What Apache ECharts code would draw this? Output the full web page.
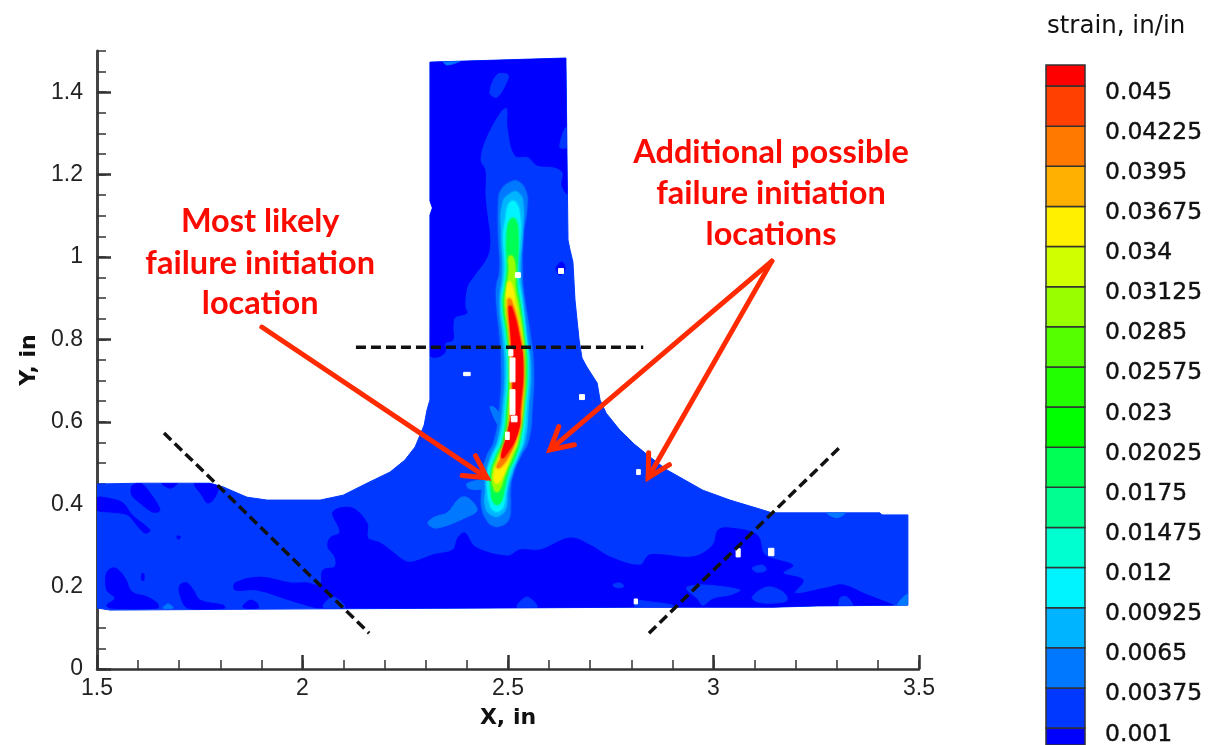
<!DOCTYPE html>
<html><head><meta charset="utf-8">
<style>html,body{margin:0;padding:0;background:#fff}#c{width:1211px;height:745px}</style>
<script src="https://cdn.jsdelivr.net/npm/echarts@6/dist/echarts.min.js"></script>
</head><body><div id="c"></div>
<script>
// ---- colour-bar
const levels=[0.001,0.00375,0.0065,0.00925,0.012,0.01475,0.0175,0.02025,0.023,0.02575,0.0285,0.03125,0.034,0.03675,0.0395,0.04225,0.045];
const bandColors=['#0000ff','#0038ff','#0078ff','#00b4ff','#00f4ff','#00ffd0','#00ff90','#00ff55','#00ff00','#22ff00','#55ff00','#99ff00','#d0ff00','#fff000','#ffb000','#ff7800','#ff4000','#ff0000'];
const xMajor=[1.5,2,2.5,3,3.5];
const yMajor=[0,0.2,0.4,0.6,0.8,1,1.2,1.4];
// ---- specimen outline (x,y in inches)
const outline=[[2.310,1.473],[2.641,1.483],[2.644,1.211],[2.646,1.041],[2.651,1.017],[2.658,.988],[2.663,.896],[2.668,.847],[2.673,.799],[2.680,.755],[2.692,.733],[2.717,.694],[2.724,.653],[2.739,.621],[2.772,.580],[2.807,.546],[2.845,.515],[2.887,.483],[2.974,.434],[3.040,.410],[3.120,.386],[3.142,.379],[3.405,.379],[3.410,.374],[3.473,.374],[3.473,.155],[3.252,.153],[3.145,.150],[2.821,.150],[2.481,.148],[2.043,.146],[1.532,.143],[1.5,.148],[1.5,.449],[1.605,.451],[1.775,.451],[1.807,.442],[1.865,.417],[1.914,.410],[2.043,.410],[2.099,.422],[2.157,.451],[2.213,.478],[2.249,.507],[2.274,.539],[2.296,.592],[2.303,.629],[2.310,.653],[2.310,1.102],[2.316,1.119],[2.310,1.136]];
// ---- low-strain contours (below 0.00375)
const lowStem=[[2.310,1.473],[2.641,1.483],[2.644,1.155],[2.631,1.175],[2.634,1.204],[2.614,1.218],[2.571,1.223],[2.549,1.243],[2.517,1.247],[2.500,1.315],[2.498,1.362],[2.481,1.352],[2.444,1.284],[2.432,1.235],[2.444,1.211],[2.444,1.150],[2.449,1.102],[2.456,1.041],[2.449,1.000],[2.415,.951],[2.400,.927],[2.395,.879],[2.400,.864],[2.371,.854],[2.366,.830],[2.366,.799],[2.347,.791],[2.347,.769],[2.327,.757],[2.310,.762]];
const lowBand=[[1.836,.209],[1.897,.223],[1.970,.209],[2.011,.209],[2.043,.204],[2.050,.240],[2.079,.248],[2.079,.272],[2.062,.296],[2.067,.318],[2.091,.332],[2.074,.381],[2.120,.391],[2.157,.354],[2.159,.318],[2.189,.306],[2.213,.289],[2.254,.260],[2.286,.265],[2.317,.277],[2.366,.289],[2.378,.318],[2.395,.330],[2.420,.296],[2.498,.274],[2.529,.289],[2.578,.289],[2.651,.318],[2.699,.301],[2.748,.272],[2.821,.252],[2.845,.277],[2.950,.272],[2.999,.301],[3.011,.337],[3.040,.342],[3.106,.325],[3.125,.277],[3.193,.252],[3.169,.233],[3.218,.216],[3.198,.184],[3.276,.197],[3.315,.204],[3.373,.180],[3.437,.155],[3.437,.150],[2.043,.148],[2.011,.155],[1.970,.167],[1.889,.192],[1.836,.192]];
const lowPatches=[
 [[1.585,.444],[1.605,.451],[1.624,.434],[1.653,.386],[1.636,.381],[1.605,.403],[1.585,.422]],
 [[1.658,.451],[1.695,.451],[1.678,.439]],
 [[1.738,.451],[1.794,.449],[1.787,.417],[1.770,.403],[1.755,.422]],
 [[1.5,.415],[1.524,.415],[1.563,.403],[1.585,.374],[1.629,.337],[1.617,.330],[1.597,.349],[1.575,.374],[1.532,.381],[1.5,.386]],
 [[1.695,.323],[1.704,.320],[1.697,.315]],
 [[1.524,.235],[1.544,.245],[1.568,.221],[1.585,.187],[1.622,.175],[1.646,.160],[1.648,.148],[1.532,.148],[1.524,.155],[1.544,.172],[1.524,.192]],
 [[1.702,.204],[1.719,.209],[1.734,.192],[1.751,.167],[1.807,.155],[1.811,.148],[1.721,.148],[1.702,.180]],
 [[1.855,.150],[1.872,.167],[1.889,.160],[1.892,.148]],
 [[1.609,.231],[1.614,.231],[1.614,.216],[1.609,.216]],
 [[2.617,.973],[2.631,.988],[2.639,.973],[2.627,.956]]
];
// ---- base-level islands inside the low-strain contours
const midIslands=[
 [[2.456,1.398],[2.473,1.442],[2.500,1.442],[2.493,1.417],[2.473,1.388]],
 [[2.626,1.267],[2.641,1.315],[2.644,1.267]],
 [[2.050,.150],[2.074,.175],[2.103,.150]],
 [[2.522,.150],[2.546,.175],[2.571,.150]],
 [[2.755,.204],[2.772,.209],[2.782,.201],[2.767,.197]],
 [[2.811,.165],[2.845,.163],[2.901,.155],[2.901,.150],[2.811,.150]],
 [[2.936,.199],[2.974,.204],[3.064,.192],[3.040,.180],[2.999,.172],[2.974,.155],[2.960,.172],[2.936,.192]],
 [[3.094,.175],[3.131,.199],[3.169,.187],[3.179,.167],[3.145,.160],[3.106,.163]],
 [[3.094,.245],[3.120,.252],[3.128,.240],[3.106,.235]],
 [[3.308,.172],[3.325,.175],[3.339,.150],[3.308,.150]]
];
// ---- slightly raised spots (0.0065 level)
const raisedSpots=[
 [[2.342,1.478],[2.386,1.478],[2.352,1.466]],
 [[3.447,.155],[3.473,.182],[3.473,.155]],
 [[3.276,.379],[3.320,.379],[3.300,.367]],
 [[1.661,.148],[1.673,.158],[1.685,.148]]
];
const raisedBlobs=[
 [[2.305,.354],[2.322,.369],[2.352,.379],[2.383,.415],[2.403,.415],[2.425,.386],[2.400,.369],[2.327,.342]],
 [[2.456,.636],[2.468,.634],[2.488,.604],[2.481,.585]],
 [[2.400,.450],[2.437,.457],[2.437,.438],[2.405,.438]]
];
// ---- the crack band: rows of [y, left x, right x] for nested contours, top to bottom
const crack0065=[[1.182,2.509,2.525],[1.163,2.485,2.541],[1.131,2.478,2.546],[1.049,2.478,2.536],[.968,2.481,2.534],[.927,2.473,2.536],[.888,2.473,2.541],[.806,2.481,2.554],[.733,2.485,2.561],[.636,2.481,2.558],[.556,2.468,2.549],[.515,2.449,2.529],[.476,2.439,2.512],[.434,2.437,2.505],[.393,2.437,2.505],[.362,2.449,2.500],[.349,2.463,2.483]];
const crack0093=[[1.155,2.509,2.525],[1.131,2.488,2.536],[1.049,2.485,2.534],[.968,2.488,2.529],[.888,2.481,2.536],[.806,2.488,2.544],[.733,2.493,2.554],[.636,2.488,2.549],[.556,2.476,2.541],[.515,2.459,2.524],[.476,2.449,2.510],[.434,2.446,2.498],[.393,2.446,2.495],[.374,2.461,2.481]];
const crack0120=[[1.131,2.505,2.519],[1.090,2.495,2.529],[1.049,2.490,2.529],[.968,2.493,2.524],[.888,2.485,2.534],[.806,2.493,2.544],[.733,2.498,2.549],[.636,2.493,2.544],[.556,2.481,2.536],[.515,2.463,2.522],[.476,2.451,2.505],[.434,2.451,2.495],[.403,2.456,2.490],[.386,2.465,2.481]];
const crack0200=[[1.090,2.506,2.518],[1.049,2.498,2.524],[.968,2.498,2.522],[.927,2.493,2.522],[.888,2.488,2.529],[.806,2.498,2.539],[.733,2.503,2.546],[.636,2.498,2.539],[.556,2.488,2.529],[.515,2.471,2.517],[.476,2.459,2.500],[.434,2.459,2.490],[.403,2.467,2.480]];
const crack0310=[[1.000,2.503,2.511],[.968,2.503,2.517],[.927,2.498,2.517],[.888,2.493,2.524],[.806,2.503,2.536],[.733,2.507,2.541],[.636,2.503,2.536],[.556,2.493,2.524],[.515,2.476,2.510],[.476,2.463,2.493],[.434,2.468,2.478]];
const crack0367=[[.937,2.500,2.507],[.888,2.498,2.517],[.806,2.505,2.532],[.733,2.507,2.536],[.636,2.507,2.534],[.556,2.498,2.522],[.515,2.481,2.505],[.476,2.468,2.490],[.454,2.469,2.477]];
const crack0395=[[.896,2.500,2.507],[.806,2.507,2.529],[.733,2.510,2.536],[.636,2.510,2.532],[.556,2.500,2.517],[.515,2.485,2.500],[.490,2.473,2.481]];
const crack0450=[[.879,2.503,2.508],[.806,2.508,2.527],[.733,2.512,2.536],[.636,2.510,2.529],[.575,2.500,2.524],[.515,2.484,2.491]];
// ---- data holes: [xmin,ymin,xmax,ymax]
const holes=[[2.518,.950,2.530,.962],[2.623,.960,2.635,.972],[2.392,.712,2.408,.720],[2.674,.654,2.686,.666],[2.505,.697,2.517,.755],[2.505,.618,2.517,.678],[2.508,.600,2.522,.614],[2.494,.557,2.503,.575],[2.502,.760,2.512,.775],[2.813,.472,2.822,.484],[3.055,.272,3.065,.292],[3.134,.275,3.147,.293],[2.807,.158,2.815,.170]];
// ---- overlays
const dashLines=[[[2.130,.781],[2.829,.781]],[[1.663,.573],[2.162,.087]],[[2.843,.087],[3.308,.539]]];
const arrows=[[[1.901,.830],[2.449,.464]],[[3.142,.990],[2.602,.532]],[[3.142,.990],[2.841,.464]]];
const notes=[[1.897,1.086,'Most likely'],[1.897,.984,'failure initiation'],[1.897,.888,'location'],[3.140,1.254,'Additional possible'],[3.140,1.154,'failure initiation'],[3.140,1.055,'locations']];

const rowsToPoly=r=>r.map(a=>[a[1],a[0]]).concat(r.slice().reverse().map(a=>[a[2],a[0]]));
const rect=h=>[[h[0],h[1]],[h[2],h[1]],[h[2],h[3]],[h[0],h[3]]];
const layers=[
 {c:'#0038ff',p:[outline]},
 {c:'#0000ff',p:[lowStem,lowBand].concat(lowPatches),s:.35,clip:1},
 {c:'#0038ff',p:midIslands,s:.35,clip:1},
 {c:'#0078ff',p:raisedSpots.concat(raisedBlobs),s:.35,clip:1},
 {c:'#0078ff',p:[rowsToPoly(crack0065)],s:.5,b:2},
 {c:'#00b4ff',p:[rowsToPoly(crack0093)],s:.5,b:2},
 {c:'#00f4ff',p:[rowsToPoly(crack0120)],s:.5,b:3},
 {c:'#00ff55',p:[rowsToPoly(crack0200)],s:.5,b:3},
 {c:'#99ff00',p:[rowsToPoly(crack0310)],s:.5,b:3},
 {c:'#fff000',p:[rowsToPoly(crack0367)],s:.5,b:3},
 {c:'#ff8000',p:[rowsToPoly(crack0395)],s:.5,b:3},
 {c:'#ff0000',p:[rowsToPoly(crack0450)],s:.5,b:3},
 {c:'#ffffff',p:holes.map(rect)}
];
const tickFont={fontFamily:'Liberation Sans',fontSize:23,color:'#222'};
const barMin=-0.000165, barMax=0.04644;
const barBands=bandColors.map((c,i)=>[i===0?barMin:levels[i-1], i===levels.length?barMax:levels[i], i]);

const chart=echarts.init(document.getElementById('c'),null,{renderer:'canvas'});
chart.setOption({
 animation:false,backgroundColor:'#fff',
 grid:[{left:97,top:51,width:822,height:618,outerBoundsMode:'none'},{left:1046,top:65,width:39,height:680,outerBoundsMode:'none'}],
 title:{text:'strain, in/in',left:1042,top:9,textStyle:{fontFamily:'DejaVu Sans',fontSize:24.5,fontWeight:'normal',color:'#111'}},
 xAxis:[
  {type:'value',gridIndex:0,min:1.5,max:3.5,interval:.5,splitLine:{show:false},name:'X, in',nameLocation:'middle',nameGap:38,
   nameTextStyle:{fontFamily:'DejaVu Sans',fontWeight:'bold',fontSize:22,color:'#111'},
   axisLine:{show:true,lineStyle:{color:'#333',width:2.5}},axisTick:{inside:true,length:14,lineStyle:{color:'#333',width:2.5}},
   axisLabel:{...tickFont,margin:8,formatter:v=>String(v),customValues:xMajor}},
  {type:'value',gridIndex:0,min:1.5,max:3.5,interval:.1,position:'bottom',splitLine:{show:false},axisLine:{show:false},axisLabel:{show:false},
   axisTick:{inside:true,length:9,lineStyle:{color:'#333',width:1.5}}},
  {type:'value',gridIndex:1,min:0,max:1,show:false}
 ],
 yAxis:[
  {type:'value',gridIndex:0,min:0,max:1.5,interval:.2,splitLine:{show:false},name:'Y, in',nameLocation:'middle',nameGap:57,
   nameTextStyle:{fontFamily:'DejaVu Sans',fontWeight:'bold',fontSize:22,color:'#111'},
   axisLine:{show:true,lineStyle:{color:'#444',width:3}},axisTick:{inside:true,length:14,customValues:yMajor,lineStyle:{color:'#333',width:2.5}},
   axisLabel:{...tickFont,margin:14,formatter:v=>String(v),customValues:yMajor}},
  {type:'value',gridIndex:0,min:0,max:1.5,interval:.05,position:'left',splitLine:{show:false},axisLine:{show:false},axisLabel:{show:false},
   axisTick:{inside:true,length:9,lineStyle:{color:'#333',width:1.5}}},
  {type:'value',gridIndex:1,min:barMin,max:barMax,position:'right',splitLine:{show:false},axisLine:{show:false},axisTick:{show:false},
   axisLabel:{margin:20,formatter:v=>'{a|'+v+'}',customValues:levels,
    rich:{a:{fontFamily:'DejaVu Sans',fontSize:23.5,color:'#111',padding:[13,0,0,0],textBorderColor:'#111',textBorderWidth:.4}}}}
 ],
 series:[
  {type:'custom',xAxisIndex:0,yAxisIndex:0,data:layers.map((l,i)=>[i]),silent:true,clip:true,z:2,
   renderItem:(params,api)=>{
    const l=layers[api.value(0)];
    const clipPts=l.clip?outline.map(q=>api.coord(q)):null;
    return {type:'group',children:l.p.map(poly=>{
     const el={type:'polygon',
      shape:{points:poly.map(q=>api.coord(q)),smooth:l.s||0},
      style:{fill:l.c,stroke:l.c,lineWidth:1,lineJoin:'round',shadowBlur:l.b||0,shadowColor:l.c}};
     if(clipPts) el.clipPath={type:'polygon',shape:{points:clipPts}};
     return el;})};
   }},
  ...dashLines.map(d=>({type:'line',xAxisIndex:0,yAxisIndex:0,data:d,symbol:'none',silent:true,z:4,
    lineStyle:{color:'#111',width:3.5,type:[10,5]}})),
  {type:'custom',xAxisIndex:0,yAxisIndex:0,data:arrows.map((a,i)=>[i]),silent:true,clip:false,z:5,
   renderItem:(params,api)=>{
    const a=arrows[api.value(0)],t=api.coord(a[0]),h=api.coord(a[1]);
    const ang=Math.atan2(t[1]-h[1],t[0]-h[0]),len=25,sp=.5;
    const b1=[h[0]+len*Math.cos(ang+sp),h[1]+len*Math.sin(ang+sp)],b2=[h[0]+len*Math.cos(ang-sp),h[1]+len*Math.sin(ang-sp)];
    const st={stroke:'#ff2a00',lineWidth:5,fill:null,lineJoin:'miter',lineCap:'round'};
    return {type:'group',children:[
     {type:'line',shape:{x1:t[0],y1:t[1],x2:h[0],y2:h[1]},style:st},
     {type:'polyline',shape:{points:[b1,h,b2]},style:st}]};
   }},
  {type:'custom',xAxisIndex:0,yAxisIndex:0,data:notes.map((n,i)=>[i]),silent:true,clip:false,z:6,
   renderItem:(params,api)=>{
    const n=notes[api.value(0)],p=api.coord([n[0],n[1]]);
    return {type:'text',x:p[0],y:p[1],style:{text:n[2],fill:'#fb0a00',align:'center',verticalAlign:'middle',
      font:'bold 32.5px Lato'}};
   }},
  {type:'custom',xAxisIndex:2,yAxisIndex:2,data:barBands,silent:true,clip:false,z:2,
   renderItem:(params,api)=>{
    const lo=api.coord([0,api.value(0)]),hi=api.coord([1,api.value(1)]);
    return {type:'rect',shape:{x:lo[0],y:hi[1],width:hi[0]-lo[0],height:lo[1]-hi[1]},
     style:{fill:bandColors[api.value(2)],stroke:'#333',lineWidth:1.5}};
   }}
 ]
});
</script></body></html>
